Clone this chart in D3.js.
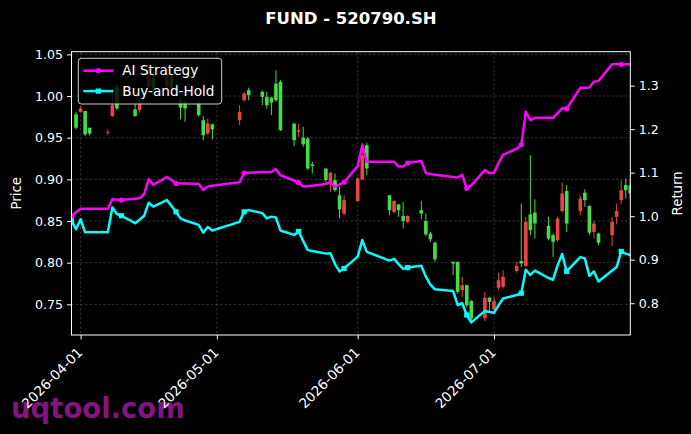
<!DOCTYPE html>
<html>
<head>
<meta charset="utf-8">
<script src="https://cdn.jsdelivr.net/npm/d3@7"></script>
<style>
  html, body { margin: 0; padding: 0; background: #000; }
  svg { display: block; font-family: "DejaVu Sans", sans-serif; }
</style>
</head>
<body>
<svg id="chart"></svg>
<script>
var parseDate = d3.timeParse("%Y-%m-%d");

// candlestick data (price, left axis)
var candleDates = ["2026-03-31","2026-04-01","2026-04-02","2026-04-03","2026-04-07","2026-04-08","2026-04-09",
  "2026-04-13","2026-04-14","2026-04-16","2026-04-17","2026-04-20","2026-04-21","2026-04-23","2026-04-24",
  "2026-04-27","2026-04-28","2026-04-29","2026-04-30","2026-05-06","2026-05-07","2026-05-08","2026-05-11",
  "2026-05-12","2026-05-13","2026-05-14","2026-05-15","2026-05-18","2026-05-19","2026-05-20","2026-05-21",
  "2026-05-22","2026-05-25","2026-05-26","2026-05-27","2026-05-28","2026-05-29","2026-06-01","2026-06-02",
  "2026-06-03","2026-06-08","2026-06-09","2026-06-10","2026-06-11","2026-06-12","2026-06-15","2026-06-16",
  "2026-06-17","2026-06-18","2026-06-22","2026-06-23","2026-06-24","2026-06-25","2026-06-26","2026-06-29",
  "2026-06-30","2026-07-01","2026-07-02","2026-07-03","2026-07-06","2026-07-07","2026-07-08","2026-07-09",
  "2026-07-10","2026-07-13","2026-07-14","2026-07-15","2026-07-16","2026-07-17","2026-07-20","2026-07-21",
  "2026-07-22","2026-07-23","2026-07-24","2026-07-27","2026-07-28","2026-07-29","2026-07-30","2026-07-31"];
var opens  = [0.978,0.981,0.982,0.962,0.956,0.976,1.011,0.984,0.983,1.011,1.022,1.011,1.022,0.994,0.993,
  0.992,0.971,0.955,0.966,0.971,0.995,1.007,1.005,0.999,0.998,1.015,1.017,0.967,0.957,0.950,0.949,
  0.918,0.913,0.897,0.899,0.881,0.859,0.874,0.900,0.941,0.881,0.861,0.870,0.856,0.849,0.863,0.850,
  0.835,0.824,0.801,0.801,0.767,0.773,0.754,0.733,0.758,0.744,0.770,0.771,0.790,0.802,0.796,0.858,
  0.860,0.844,0.833,0.827,0.862,0.886,0.862,0.884,0.868,0.837,0.835,0.833,0.855,0.875,0.893,0.893];
var highs  = [0.981,0.988,0.982,0.962,0.960,1.008,1.015,0.992,0.995,1.034,1.026,1.032,1.025,0.998,0.995,
  0.995,0.976,0.973,0.967,0.989,1.005,1.010,1.007,1.005,0.999,1.031,1.019,0.967,0.967,0.963,0.951,
  0.921,0.913,0.909,0.907,0.891,0.881,0.903,0.944,0.944,0.881,0.875,0.870,0.873,0.857,0.874,0.859,
  0.837,0.825,0.801,0.801,0.783,0.773,0.755,0.765,0.759,0.759,0.788,0.791,0.801,0.871,0.855,0.929,
  0.876,0.855,0.835,0.855,0.896,0.893,0.880,0.888,0.869,0.850,0.836,0.855,0.871,0.899,0.901,0.901];
var lows   = [0.960,0.980,0.952,0.953,0.953,0.975,0.983,0.975,0.980,1.008,1.006,1.009,1.007,0.972,0.969,
  0.975,0.947,0.953,0.948,0.965,0.993,0.995,0.989,0.985,0.977,0.993,0.958,0.940,0.951,0.939,0.911,
  0.907,0.897,0.885,0.885,0.853,0.857,0.873,0.899,0.905,0.857,0.859,0.855,0.841,0.847,0.852,0.832,
  0.825,0.801,0.785,0.763,0.759,0.747,0.731,0.730,0.741,0.739,0.767,0.769,0.788,0.795,0.795,0.833,
  0.829,0.827,0.807,0.825,0.860,0.837,0.857,0.867,0.833,0.829,0.821,0.820,0.846,0.870,0.877,0.877];
var closes = [0.962,0.985,0.954,0.955,0.957,0.989,0.985,0.976,0.993,1.031,1.010,1.028,1.010,0.986,0.985,
  0.977,0.953,0.967,0.960,0.981,1.003,1.001,0.999,0.989,0.992,0.995,0.959,0.947,0.959,0.942,0.913,
  0.916,0.899,0.908,0.887,0.864,0.875,0.901,0.929,0.913,0.863,0.874,0.863,0.850,0.856,0.859,0.834,
  0.828,0.804,0.799,0.765,0.773,0.749,0.733,0.758,0.753,0.754,0.779,0.783,0.796,0.799,0.849,0.839,
  0.847,0.829,0.825,0.853,0.883,0.847,0.877,0.875,0.836,0.847,0.824,0.849,0.862,0.887,0.887,0.883];

// cumulative return lines (right axis)
var lineDates = ["2026-03-30","2026-03-31","2026-04-01","2026-04-02","2026-04-03","2026-04-07","2026-04-08",
  "2026-04-09","2026-04-10","2026-04-13","2026-04-14","2026-04-15","2026-04-16","2026-04-17","2026-04-20",
  "2026-04-21","2026-04-22","2026-04-23","2026-04-24","2026-04-27","2026-04-28","2026-04-29","2026-04-30",
  "2026-05-06","2026-05-07","2026-05-08","2026-05-11","2026-05-12","2026-05-13","2026-05-14","2026-05-15",
  "2026-05-18","2026-05-19","2026-05-20","2026-05-21","2026-05-22","2026-05-25","2026-05-26","2026-05-27",
  "2026-05-28","2026-05-29","2026-06-01","2026-06-02","2026-06-03","2026-06-08","2026-06-09","2026-06-10",
  "2026-06-11","2026-06-12","2026-06-15","2026-06-16","2026-06-17","2026-06-18","2026-06-22","2026-06-23",
  "2026-06-24","2026-06-25","2026-06-26","2026-06-29","2026-06-30","2026-07-01","2026-07-02","2026-07-03",
  "2026-07-06","2026-07-07","2026-07-08","2026-07-09","2026-07-10","2026-07-13","2026-07-14","2026-07-15",
  "2026-07-16","2026-07-17","2026-07-20","2026-07-21","2026-07-22","2026-07-23","2026-07-24","2026-07-27",
  "2026-07-28","2026-07-29","2026-07-30","2026-07-31"];
var aiStrategy = [1.000,1.009,1.017,1.017,1.017,1.017,1.039,1.038,1.037,1.040,1.041,1.051,1.085,1.072,1.090,
  1.083,1.075,1.075,1.075,1.074,1.060,1.068,1.070,1.078,1.099,1.100,1.101,1.101,1.102,1.108,1.094,
  1.082,1.077,1.068,1.069,1.070,1.074,1.078,1.068,1.073,1.078,1.115,1.163,1.125,1.125,1.125,1.114,
  1.114,1.122,1.127,1.099,1.097,1.095,1.090,1.089,1.095,1.064,1.071,1.106,1.099,1.099,1.122,1.141,
  1.155,1.164,1.240,1.221,1.226,1.226,1.226,1.237,1.248,1.247,1.295,1.295,1.296,1.309,1.311,1.349,
  1.349,1.349,1.349,1.349];
var buyHold = [0.990,0.970,0.993,0.963,0.963,0.963,1.020,1.005,1.001,0.984,0.992,1.001,1.031,1.022,1.037,
  1.024,1.010,0.995,0.990,0.980,0.962,0.975,0.967,0.987,1.010,1.014,1.007,0.995,0.999,0.997,0.967,
  0.957,0.965,0.943,0.922,0.920,0.914,0.915,0.890,0.873,0.880,0.907,0.945,0.918,0.898,0.902,0.890,
  0.879,0.882,0.886,0.861,0.843,0.832,0.828,0.796,0.800,0.773,0.756,0.782,0.780,0.778,0.795,0.811,
  0.819,0.823,0.877,0.865,0.875,0.858,0.854,0.887,0.913,0.873,0.906,0.903,0.863,0.873,0.850,0.875,
  0.883,0.919,0.914,0.911];

var priceTicks = [0.75, 0.80, 0.85, 0.90, 0.95, 1.00, 1.05];
var returnTicks = [0.8, 0.9, 1.0, 1.1, 1.2, 1.3];
var monthTicks = ["2026-04-01", "2026-05-01", "2026-06-01", "2026-07-01"];
var markEvery = 8;

var W = 691, H = 434;
var margin = {top: 51.7, right: 60.7, bottom: 99, left: 71.5};
var width = W - margin.left - margin.right;
var height = H - margin.top - margin.bottom;

var svg = d3.select("#chart").attr("width", W).attr("height", H);
svg.append("rect").attr("width", W).attr("height", H).attr("fill", "#000");

var x = d3.scaleTime()
    .domain([parseDate("2026-03-30"), parseDate("2026-07-31")])
    .range([0, width]);
var y = d3.scaleLinear().domain([0.7132, 1.0532]).range([height, 0]);
var y2 = d3.scaleLinear().domain([0.727, 1.378]).range([height, 0]);

var candles = candleDates.map(function(d, i) {
  return {date: parseDate(d), o: opens[i], h: highs[i], l: lows[i], c: closes[i]};
});
var lines = lineDates.map(function(d, i) {
  return {date: parseDate(d), ai: aiStrategy[i], bh: buyHold[i], i: i};
});

// watermark sits behind the tick labels
svg.append("text")
    .attr("x", 11).attr("y", 418)
    .attr("fill", "#84147f")
    .attr("font-size", 27.5).attr("font-weight", "bold")
    .text("uqtool.com");

svg.append("defs").append("clipPath").attr("id", "clip")
  .append("rect").attr("width", width).attr("height", height);

var g = svg.append("g")
    .attr("transform", "translate(" + margin.left + "," + margin.top + ")");

// grid
var grid = g.append("g").attr("stroke", "#555").attr("stroke-width", 0.6)
    .attr("stroke-dasharray", "2.5,2");
grid.selectAll(".hg").data(priceTicks).enter().append("line")
    .attr("x1", 0).attr("x2", width)
    .attr("y1", (d) => y(d)).attr("y2", (d) => y(d));
grid.selectAll(".vg").data(monthTicks).enter().append("line")
    .attr("y1", 0).attr("y2", height)
    .attr("x1", (d) => x(parseDate(d))).attr("x2", (d) => x(parseDate(d)));

// candles
var green = "#44dd44", red = "#e84646";
var bodyW = 3.6;
var cg = g.append("g").attr("clip-path", "url(#clip)");
var cand = cg.selectAll(".candle").data(candles).enter().append("g");
cand.append("line")
    .attr("x1", (d) => x(d.date)).attr("x2", (d) => x(d.date))
    .attr("y1", (d) => y(d.h)).attr("y2", (d) => y(d.l))
    .attr("stroke", (d) => d.c >= d.o ? red : green)
    .attr("stroke-width", 1);
cand.append("rect")
    .attr("x", (d) => x(d.date) - bodyW / 2)
    .attr("width", bodyW)
    .attr("y", (d) => y(Math.max(d.o, d.c)))
    .attr("height", (d) => Math.max(0.8, Math.abs(y(d.o) - y(d.c))))
    .attr("fill", (d) => d.c >= d.o ? red : green);

// return lines
var series = [
  {key: "ai", name: "AI Strategy", color: "#ff00ff", marker: "circle"},
  {key: "bh", name: "Buy-and-Hold", color: "#00ffff", marker: "square"}
];
var lg = g.append("g").attr("clip-path", "url(#clip)");
series.slice().reverse().forEach(function(s) {
  var line = d3.line().x((d) => x(d.date)).y((d) => y2(d[s.key]));
  lg.append("path").datum(lines)
      .attr("d", line)
      .attr("fill", "none")
      .attr("stroke", s.color)
      .attr("stroke-width", 2.5)
      .attr("stroke-linejoin", "round");
  var marks = lines.filter((d) => d.i % markEvery === 0);
  if (s.marker === "circle") {
    lg.selectAll(".m" + s.key).data(marks).enter().append("circle")
        .attr("cx", (d) => x(d.date)).attr("cy", (d) => y2(d[s.key]))
        .attr("r", 2.6).attr("fill", s.color);
  } else {
    lg.selectAll(".m" + s.key).data(marks).enter().append("rect")
        .attr("x", (d) => x(d.date) - 2.6).attr("y", (d) => y2(d[s.key]) - 2.6)
        .attr("width", 5.2).attr("height", 5.2).attr("fill", s.color);
  }
});

// frame
g.append("rect").attr("width", width).attr("height", height)
    .attr("fill", "none").attr("stroke", "#fff").attr("stroke-width", 1);

// axes
var fs = 12.6, fsX = 13.6, fsLeg = 13.6, fsLab = 13.3;
var yAxis = g.append("g").call(d3.axisLeft(y).tickValues(priceTicks)
    .tickFormat(d3.format(".2f")).tickSize(4.4).tickPadding(4));
var y2Axis = g.append("g").attr("transform", "translate(" + width + ",0)")
    .call(d3.axisRight(y2).tickValues(returnTicks)
    .tickFormat(d3.format(".1f")).tickSize(4.4).tickPadding(4));
var xAxis = g.append("g").attr("transform", "translate(0," + height + ")")
    .call(d3.axisBottom(x).tickValues(monthTicks.map(parseDate))
    .tickFormat(d3.timeFormat("%Y-%m-%d")).tickSize(4.4));
[yAxis, y2Axis, xAxis].forEach(function(a) {
  a.select(".domain").remove();
  a.selectAll("line").attr("stroke", "#fff");
  a.selectAll("text").attr("fill", "#fff").attr("font-size", fs)
      .attr("font-family", "DejaVu Sans");
});
xAxis.selectAll("text")
    .attr("font-size", fsX)
    .attr("text-anchor", "end")
    .attr("dy", "0.35em")
    .attr("transform", "translate(-1,15) rotate(-45)")
    .attr("x", 0).attr("y", 0);

// axis labels
svg.append("text")
    .attr("transform", "translate(21," + (margin.top + height / 2) + ") rotate(-90)")
    .attr("text-anchor", "middle").attr("fill", "#fff").attr("font-size", fsLab)
    .text("Price");
svg.append("text")
    .attr("transform", "translate(682," + (margin.top + height / 2) + ") rotate(-90)")
    .attr("text-anchor", "middle").attr("fill", "#fff").attr("font-size", fsLab)
    .text("Return");

// title
svg.append("text")
    .attr("x", margin.left + width / 2).attr("y", 24)
    .attr("text-anchor", "middle").attr("fill", "#fff")
    .attr("font-size", 16.5).attr("font-weight", "bold")
    .text("FUND - 520790.SH");

// legend
var leg = svg.append("g").attr("transform", "translate(78.3,58.3)");
leg.append("rect").attr("width", 143.4).attr("height", 45.7)
    .attr("rx", 3).attr("fill", "#000").attr("fill-opacity", 0.8)
    .attr("stroke", "#ccc").attr("stroke-width", 1);
series.forEach(function(s, i) {
  var row = leg.append("g").attr("transform", "translate(0," + (12.4 + i * 20.4) + ")");
  row.append("line").attr("x1", 5).attr("x2", 35).attr("stroke", s.color).attr("stroke-width", 2.5);
  if (s.marker === "circle") {
    row.append("circle").attr("cx", 20).attr("r", 2.6).attr("fill", s.color);
  } else {
    row.append("rect").attr("x", 17.4).attr("y", -2.6).attr("width", 5.2).attr("height", 5.2)
        .attr("fill", s.color);
  }
  row.append("text").attr("x", 44).attr("dy", "0.35em")
      .attr("fill", "#fff").attr("font-size", fsLeg).text(s.name);
});
</script>
</body>
</html>
